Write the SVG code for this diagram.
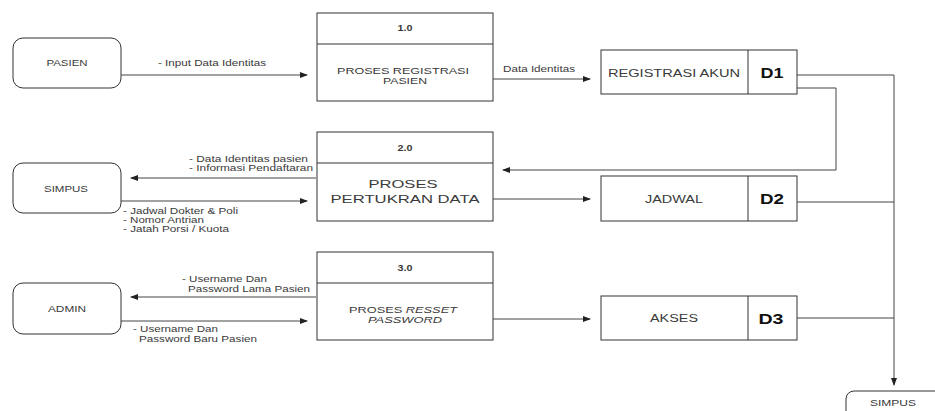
<svg xmlns="http://www.w3.org/2000/svg" width="935" height="411" viewBox="0 0 935 411">
<defs>
<marker id="ah" markerWidth="8" markerHeight="6" refX="7" refY="3" orient="auto" markerUnits="userSpaceOnUse">
<path d="M0,0 L8,3 L0,6 Z" fill="#222"/>
</marker>
<style>
.ent{fill:#fff;stroke:#333;stroke-width:1}
.box{fill:#fff;stroke:#333;stroke-width:1}
.ln{fill:none;stroke:#333;stroke-width:1}
.c{stroke:#444;stroke-width:1;fill:none}
.ca{stroke:#444;stroke-width:1;fill:none;marker-end:url(#ah)}
text{font-family:"Liberation Sans",Arial,sans-serif;fill:#3a3a3a}
.t9{font-size:9px}
.t10{font-size:10px}
.mid{text-anchor:middle}
.b{font-weight:bold}
.d{font-size:14px;font-weight:bold;fill:#111;text-anchor:middle}
</style>
</defs>
<rect width="935" height="411" fill="#fff"/>

<g id="pasien">
<rect class="ent" x="13" y="38" width="108" height="50" rx="10"/>
<text class="t9 mid" x="67" y="66" textLength="41" lengthAdjust="spacingAndGlyphs">PASIEN</text>
</g>
<g id="simpus1">
<rect class="ent" x="13" y="163" width="108" height="50" rx="10"/>
<text class="t9 mid" x="66" y="192" textLength="44" lengthAdjust="spacingAndGlyphs">SIMPUS</text>
</g>
<g id="admin">
<rect class="ent" x="13" y="283" width="108" height="51" rx="10"/>
<text class="t9 mid" x="67" y="312" textLength="38" lengthAdjust="spacingAndGlyphs">ADMIN</text>
</g>
<g id="simpus2">
<rect class="ent" x="846" y="391" width="104" height="40" rx="8"/>
<text class="t9 mid" x="893" y="406" textLength="46" lengthAdjust="spacingAndGlyphs">SIMPUS</text>
</g>

<g id="p1">
<rect class="box" x="317" y="13" width="176" height="88"/>
<line class="ln" x1="317" y1="44" x2="493" y2="44"/>
<text class="t9 mid b" x="405" y="31" textLength="15" lengthAdjust="spacingAndGlyphs">1.0</text>
<text class="t9 mid" x="403" y="74" textLength="132" lengthAdjust="spacingAndGlyphs">PROSES REGISTRASI</text>
<text class="t9 mid" x="405" y="84" textLength="44" lengthAdjust="spacingAndGlyphs">PASIEN</text>
</g>
<g id="p2">
<rect class="box" x="317" y="132" width="176" height="89"/>
<line class="ln" x1="317" y1="163" x2="493" y2="163"/>
<text class="t9 mid b" x="405" y="151" textLength="15" lengthAdjust="spacingAndGlyphs">2.0</text>
<text class="mid" style="font-size:11px" x="403" y="188" textLength="69" lengthAdjust="spacingAndGlyphs">PROSES</text>
<text class="mid" style="font-size:11px" x="405" y="203" textLength="149" lengthAdjust="spacingAndGlyphs">PERTUKRAN DATA</text>
</g>
<g id="p3">
<rect class="box" x="317" y="252" width="176" height="88"/>
<line class="ln" x1="317" y1="283" x2="493" y2="283"/>
<text class="t9 mid b" x="405" y="271" textLength="15" lengthAdjust="spacingAndGlyphs">3.0</text>
<text class="t9 mid" x="403" y="313" textLength="108" lengthAdjust="spacingAndGlyphs">PROSES <tspan font-style="italic">RESSET</tspan></text>
<text class="t9 mid" x="405" y="323" font-style="italic" textLength="74" lengthAdjust="spacingAndGlyphs">PASSWORD</text>
</g>

<g id="d1">
<rect class="box" x="601" y="50" width="196" height="44"/>
<line class="ln" x1="748" y1="50" x2="748" y2="94"/>
<text class="t10 mid" x="674" y="77" textLength="132" lengthAdjust="spacingAndGlyphs">REGISTRASI AKUN</text>
<text class="d" x="772" y="78" textLength="23" lengthAdjust="spacingAndGlyphs">D1</text>
</g>
<g id="d2">
<rect class="box" x="601" y="176" width="196" height="45"/>
<line class="ln" x1="748" y1="176" x2="748" y2="221"/>
<text class="t10 mid" x="674" y="203" textLength="58" lengthAdjust="spacingAndGlyphs">JADWAL</text>
<text class="d" x="772" y="204" textLength="24" lengthAdjust="spacingAndGlyphs">D2</text>
</g>
<g id="d3">
<rect class="box" x="601" y="296" width="196" height="44"/>
<line class="ln" x1="748" y1="296" x2="748" y2="340"/>
<text class="t10 mid" x="674" y="322" textLength="48" lengthAdjust="spacingAndGlyphs">AKSES</text>
<text class="d" x="771" y="324" textLength="25" lengthAdjust="spacingAndGlyphs">D3</text>
</g>

<g id="connectors">
<line class="ca" x1="121" y1="75" x2="307" y2="75"/>
<line class="ca" x1="493" y1="79" x2="590" y2="79"/>
<line class="ca" x1="316" y1="178" x2="131" y2="178"/>
<line class="ca" x1="121" y1="201" x2="307" y2="201"/>
<line class="ca" x1="493" y1="199" x2="590" y2="199"/>
<line class="ca" x1="316" y1="297" x2="131" y2="297"/>
<line class="ca" x1="121" y1="321" x2="307" y2="321"/>
<line class="ca" x1="493" y1="319" x2="590" y2="319"/>
<polyline class="ca" points="797,88 836,88 836,170 503,170"/>
<polyline class="ca" points="797,75 894,75 894,385"/>
<line class="c" x1="797" y1="202" x2="894" y2="202"/>
<line class="c" x1="797" y1="318" x2="894" y2="318"/>
</g>

<g id="labels">
<text class="t9" x="158" y="66" textLength="108" lengthAdjust="spacingAndGlyphs">- Input Data Identitas</text>
<text class="t9" x="503" y="72" textLength="72" lengthAdjust="spacingAndGlyphs">Data Identitas</text>
<text class="t9" x="189" y="162" textLength="119" lengthAdjust="spacingAndGlyphs">- Data Identitas pasien</text>
<text class="t9" x="189" y="171" textLength="124" lengthAdjust="spacingAndGlyphs">- Informasi Pendaftaran</text>
<text class="t9" x="123" y="214" textLength="115" lengthAdjust="spacingAndGlyphs">- Jadwal Dokter &amp; Poli</text>
<text class="t9" x="123" y="223" textLength="81" lengthAdjust="spacingAndGlyphs">- Nomor Antrian</text>
<text class="t9" x="123" y="232" textLength="106" lengthAdjust="spacingAndGlyphs">- Jatah Porsi / Kuota</text>
<text class="t9" x="182" y="282" textLength="85" lengthAdjust="spacingAndGlyphs">- Username Dan</text>
<text class="t9" x="188" y="292" textLength="122" lengthAdjust="spacingAndGlyphs">Password Lama Pasien</text>
<text class="t9" x="133" y="332" textLength="85" lengthAdjust="spacingAndGlyphs">- Username Dan</text>
<text class="t9" x="139" y="342" textLength="118" lengthAdjust="spacingAndGlyphs">Password Baru Pasien</text>
</g>
</svg>
